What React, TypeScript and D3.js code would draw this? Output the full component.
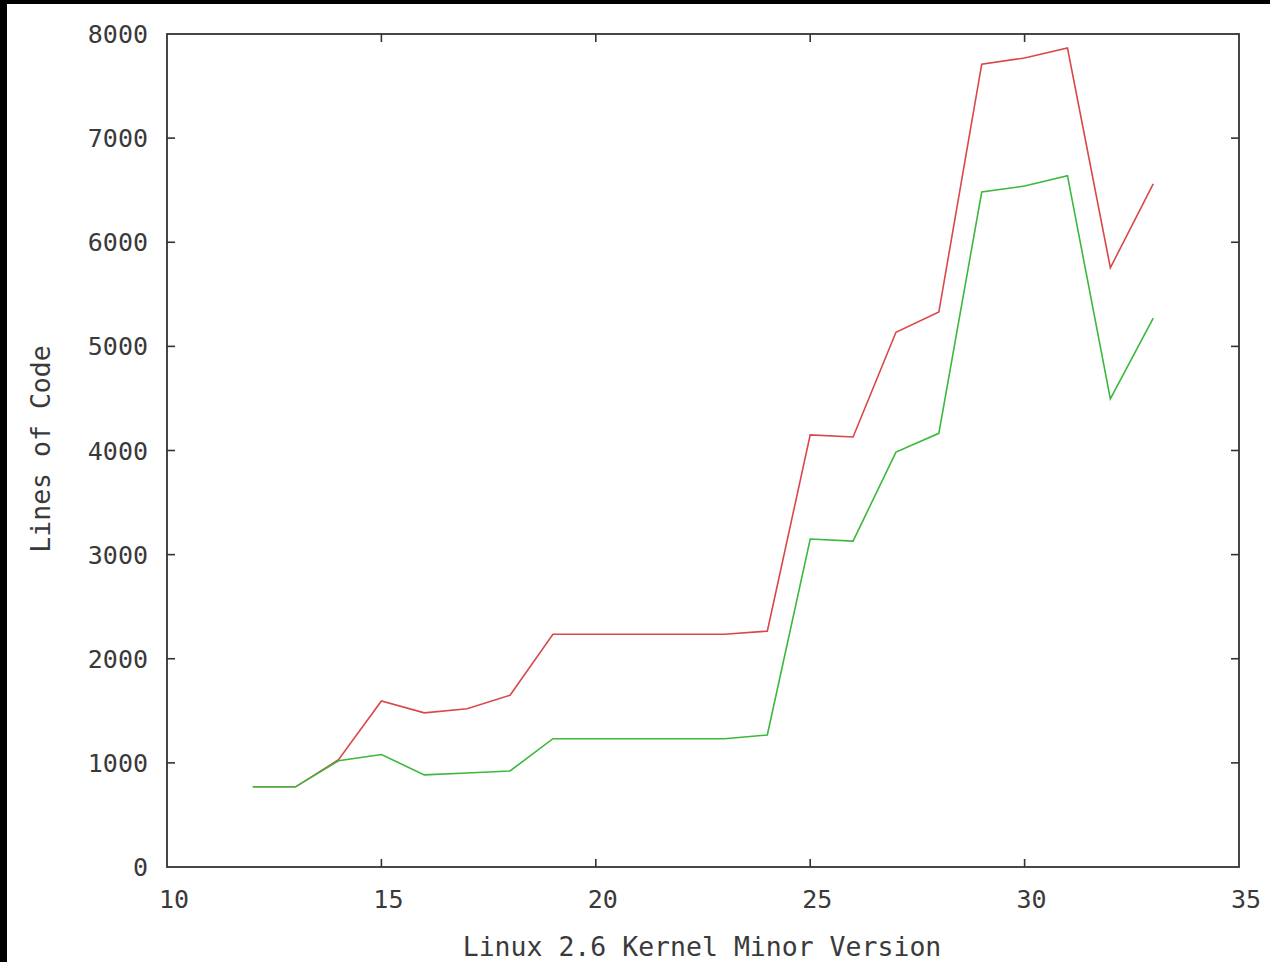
import React, { useEffect, useRef } from "react";
import * as d3 from "d3";

const versions = [12, 13, 14, 15, 16, 17, 18, 19, 20, 21, 22, 23, 24, 25, 26, 27, 28, 29, 30, 31, 32, 33];
const redValues = [770, 770, 1030, 1595, 1480, 1520, 1650, 2235, 2235, 2235, 2235, 2235, 2265, 4150, 4130, 5135, 5330, 7710, 7770, 7865, 5755, 6560];
const greenValues = [770, 770, 1020, 1080, 885, 903, 922, 1232, 1232, 1232, 1232, 1232, 1268, 3150, 3130, 3985, 4165, 6482, 6540, 6640, 4495, 5272];
const xTicks = [10, 15, 20, 25, 30, 35];
const yTicks = [0, 1000, 2000, 3000, 4000, 5000, 6000, 7000, 8000];
const xTitle = "Linux 2.6 Kernel Minor Version";
const yTitle = "Lines of Code";

const W = 1270;
const H = 962;
const FONT = "'DejaVu Sans Mono', 'Liberation Mono', monospace";

export default function App() {
  const ref = useRef<SVGSVGElement | null>(null);

  useEffect(() => {
    const svg = d3.select(ref.current);
    svg.selectAll("*").remove();

    const left = 167, right = 1239, top = 34, bottom = 867;
    const x = d3.scaleLinear().domain([10, 35]).range([left, right]);
    const y = d3.scaleLinear().domain([0, 8000]).range([bottom, top]);

    svg.append("rect").attr("x", 0).attr("y", 0).attr("width", W).attr("height", H).attr("fill", "#000");
    svg.append("rect").attr("x", 7).attr("y", 4).attr("width", W - 7).attr("height", H - 4).attr("fill", "#fff");

    const axisColor = "#333";
    const tickLen = 8;

    const g = svg.append("g").attr("stroke", axisColor).attr("stroke-width", 1.6);
    xTicks.slice(1, -1).forEach((t) => {
      g.append("line").attr("x1", x(t)).attr("x2", x(t)).attr("y1", bottom).attr("y2", bottom - tickLen);
      g.append("line").attr("x1", x(t)).attr("x2", x(t)).attr("y1", top).attr("y2", top + tickLen);
    });
    yTicks.slice(1, -1).forEach((t) => {
      g.append("line").attr("x1", left).attr("x2", left + tickLen).attr("y1", y(t)).attr("y2", y(t));
      g.append("line").attr("x1", right).attr("x2", right - tickLen).attr("y1", y(t)).attr("y2", y(t));
    });

    const lineGen = d3
      .line<number>()
      .x((_, i) => x(versions[i]))
      .y((d) => y(d));
    svg.append("path").datum(redValues).attr("d", lineGen).attr("fill", "none").attr("stroke", "#d94848").attr("stroke-width", 1.6);
    svg.append("path").datum(greenValues).attr("d", lineGen).attr("fill", "none").attr("stroke", "#3cb83c").attr("stroke-width", 1.6);

    svg
      .append("rect")
      .attr("x", left)
      .attr("y", top)
      .attr("width", right - left)
      .attr("height", bottom - top)
      .attr("fill", "none")
      .attr("stroke", axisColor)
      .attr("stroke-width", 1.8);

    const labels = svg.append("g").attr("font-family", FONT).attr("font-size", 25).attr("fill", "#3a3a3a");
    yTicks.forEach((t) => {
      labels
        .append("text")
        .attr("x", 148)
        .attr("y", y(t))
        .attr("dy", "0.36em")
        .attr("text-anchor", "end")
        .text(String(t));
    });
    xTicks.forEach((t) => {
      labels
        .append("text")
        .attr("x", x(t) + 7)
        .attr("y", 908)
        .attr("text-anchor", "middle")
        .text(String(t));
    });

    svg
      .append("text")
      .attr("x", 702)
      .attr("y", 956)
      .attr("text-anchor", "middle")
      .attr("font-family", FONT)
      .attr("font-size", 26.5)
      .attr("fill", "#3a3a3a")
      .text(xTitle);
    svg
      .append("text")
      .attr("transform", `translate(50,449) rotate(-90)`)
      .attr("text-anchor", "middle")
      .attr("font-family", FONT)
      .attr("font-size", 26.5)
      .attr("fill", "#3a3a3a")
      .text(yTitle);
  }, []);

  return (
    <svg
      ref={ref}
      width={W}
      height={H}
      style={{ position: "absolute", left: 0, top: 0, display: "block" }}
    />
  );
}
